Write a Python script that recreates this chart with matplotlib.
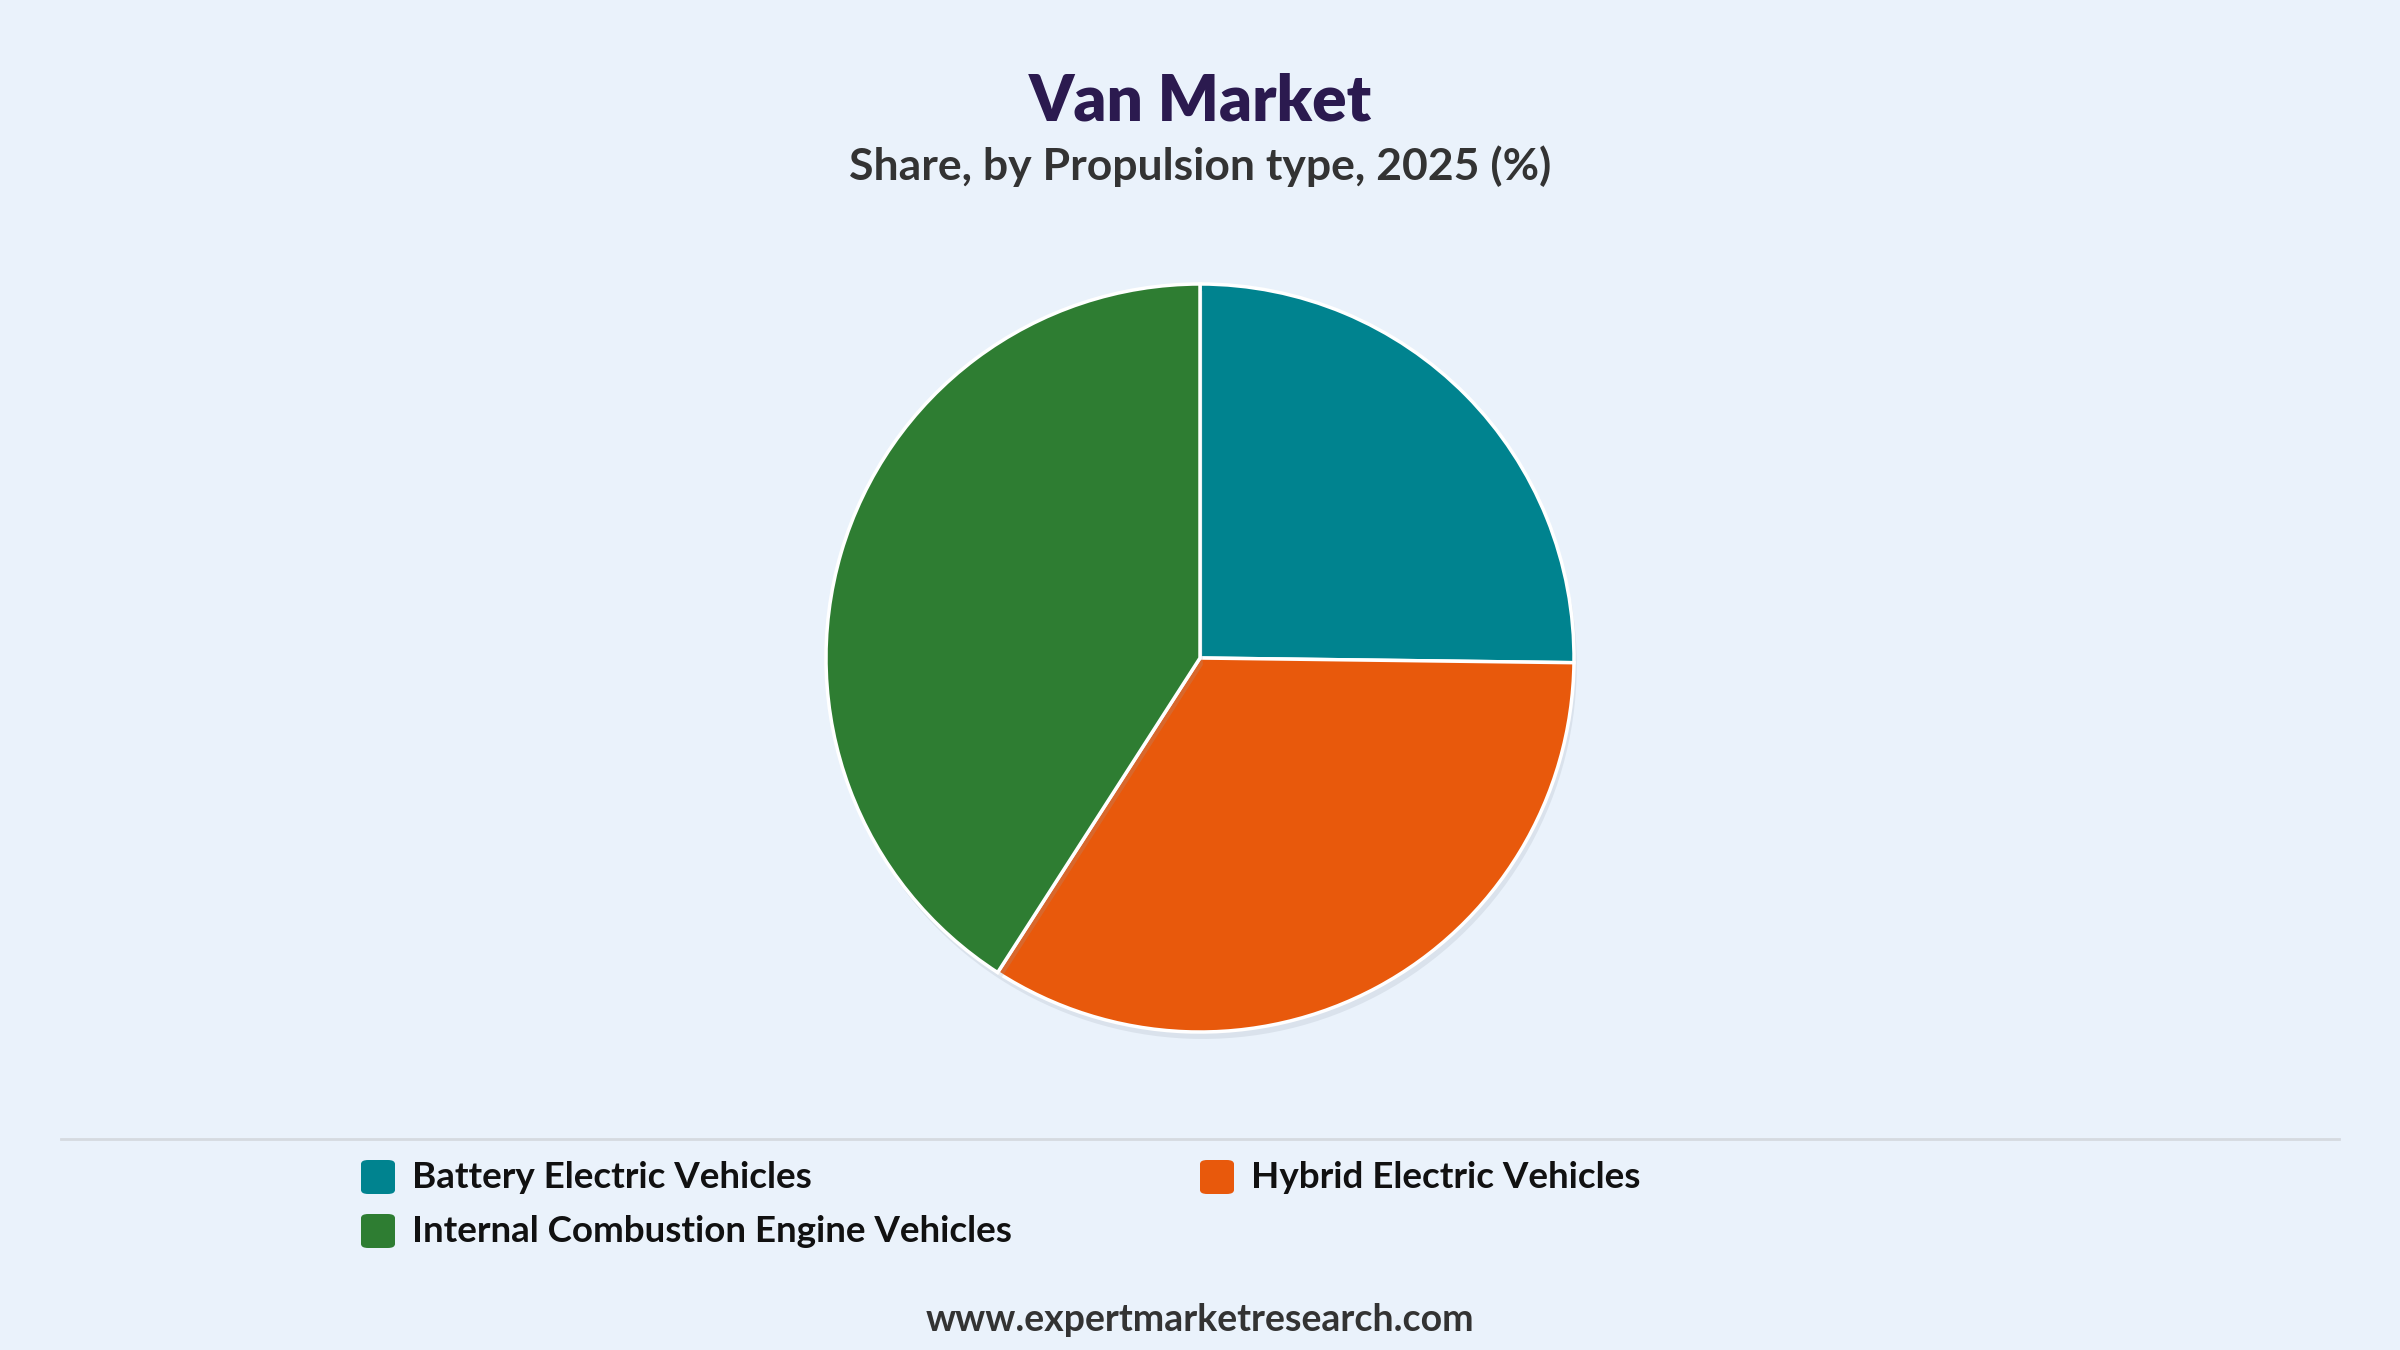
import matplotlib
matplotlib.use('Agg')
import matplotlib.pyplot as plt
from matplotlib.patches import FancyBboxPatch
from matplotlib.lines import Line2D
import matplotlib.patheffects as pe

plt.rcParams['font.family'] = ['Lato', 'DejaVu Sans']

# data
labels = ['Battery Electric Vehicles', 'Hybrid Electric Vehicles',
          'Internal Combustion Engine Vehicles']
shares = [25.2, 33.9, 40.9]
colors = ['#00838F', '#E8590C', '#2E7D32']

title = 'Van Market'
subtitle = 'Share, by Propulsion type, 2025 (%)'
source = 'www.expertmarketresearch.com'

bg = '#EAF2FB'
W, H = 2400, 1350

fig = plt.figure(figsize=(24, 13.5), dpi=100, facecolor=bg)


def fx(px):
    return px / W


def fy(py):
    return 1 - py / H


fig.text(0.5, fy(102), title, ha='center', va='center', fontsize=46,
         fontweight='heavy', color='#2B1A4F')
fig.text(0.5, fy(166), subtitle, ha='center', va='center', fontsize=32,
         fontweight='bold', color='#333333')

# pie
cx, cy, r = 1200, 658, 374
ax = fig.add_axes([fx(cx - r), 1 - (cy + r) / H, 2 * r / W, 2 * r / H])
ax.set_facecolor('none')
wedges, _ = ax.pie(shares, colors=colors, startangle=90, counterclock=False,
                   radius=1.0,
                   wedgeprops=dict(edgecolor='white', linewidth=2.5))
for w in wedges:
    w.set_path_effects([pe.SimplePatchShadow(offset=(2, -5), shadow_rgbFace='#9aa4b0',
                                             alpha=0.2), pe.Normal()])
ax.set_xlim(-1.0, 1.0)
ax.set_ylim(-1.0, 1.0)
ax.set_aspect('equal')
ax.axis('off')

# separator line
fig.add_artist(Line2D([fx(61), fx(2339)], [fy(1139), fy(1139)],
                      color='#D5DAE0', lw=2))

# legend
sq = 34
positions = [(378, 1177), (1217, 1177), (378, 1231)]
for (px, py), lab, col in zip(positions, labels, colors):
    fig.add_artist(FancyBboxPatch((fx(px - sq / 2), fy(py + sq / 2)),
                                  sq / W, sq / H,
                                  boxstyle='round,pad=0,rounding_size=0.003',
                                  transform=fig.transFigure,
                                  facecolor=col, edgecolor='none'))
    fig.text(fx(px + 34), fy(py), lab, ha='left', va='center', fontsize=26.5,
             fontweight='bold', color='#111111')

fig.text(0.5, fy(1320), source, ha='center', va='center', fontsize=27,
         fontweight='bold', color='#333333')

fig.savefig('out.png', dpi=100, facecolor=bg)
